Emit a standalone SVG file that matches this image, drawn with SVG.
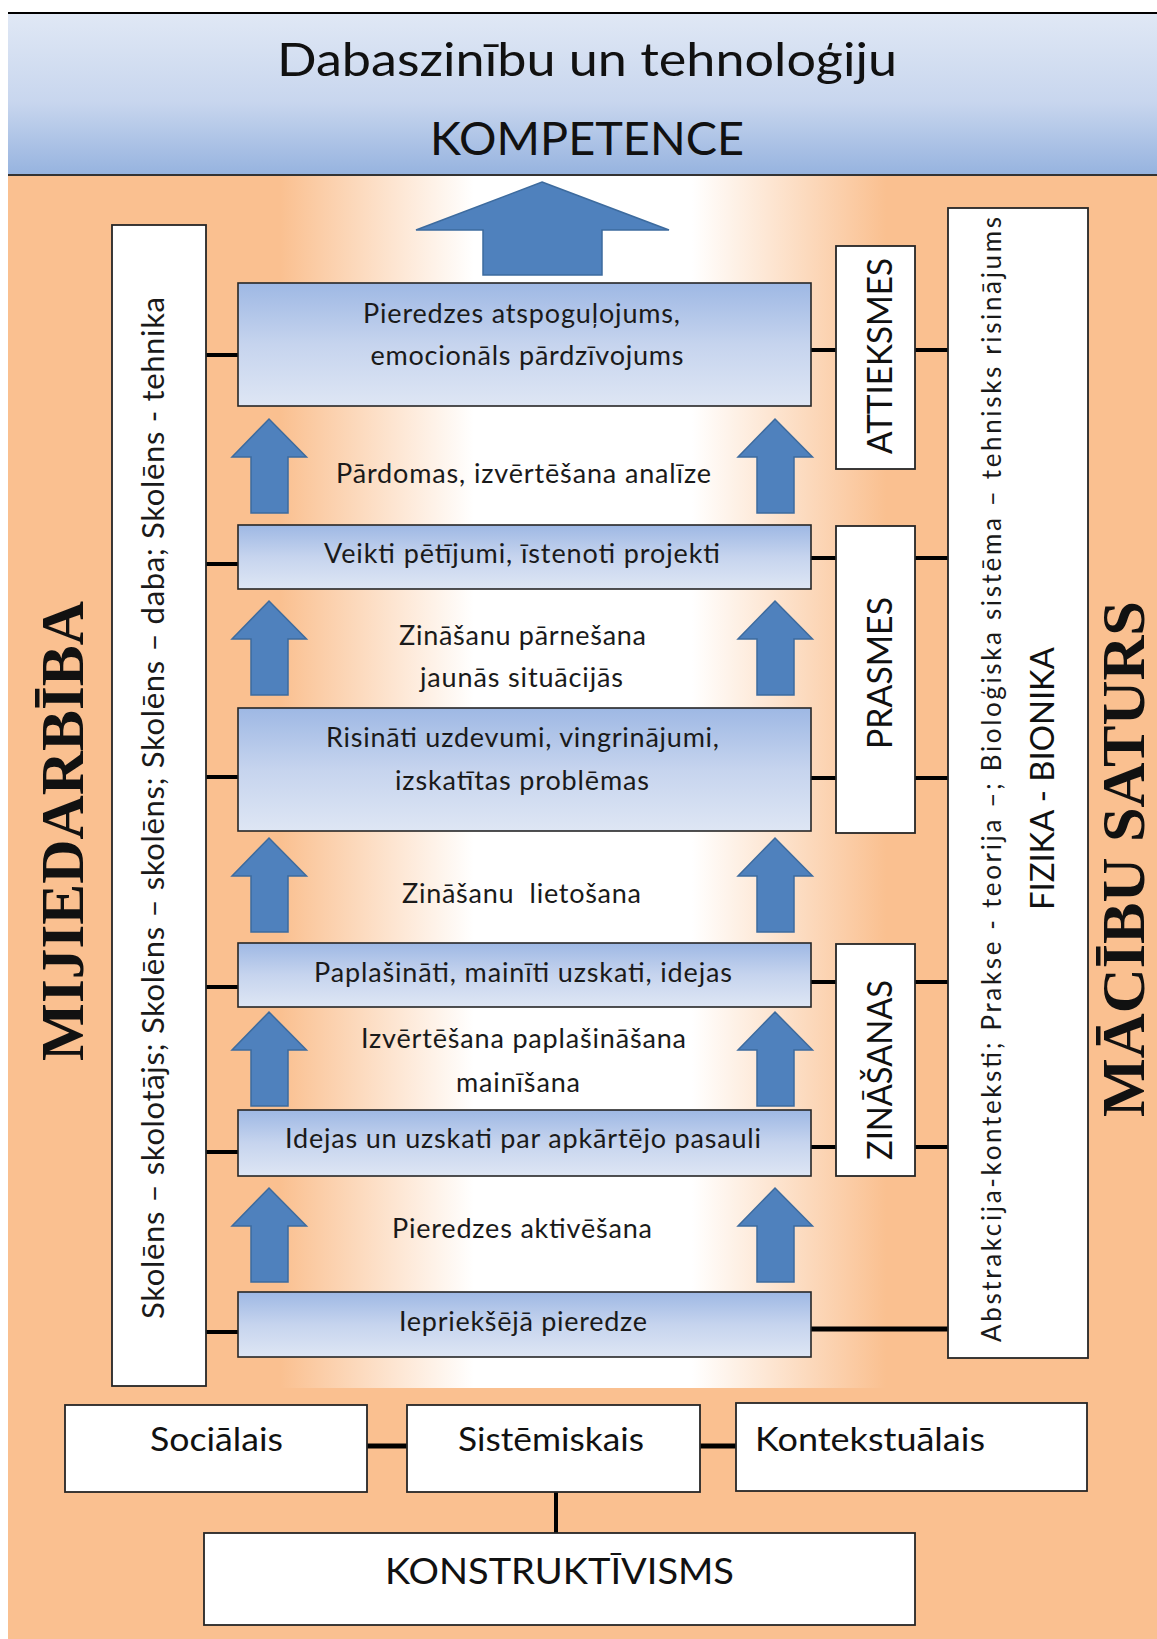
<svg xmlns="http://www.w3.org/2000/svg" width="1157" height="1639" viewBox="0 0 1157 1639">
<defs>
<linearGradient id="hdr" x1="0" y1="0" x2="0" y2="1">
<stop offset="0" stop-color="#E0E8F5"/>
<stop offset="0.55" stop-color="#C8D6EE"/>
<stop offset="1" stop-color="#96B3DF"/>
</linearGradient>
<linearGradient id="band" x1="0" y1="0" x2="1" y2="0">
<stop offset="0" stop-color="#FAC090"/>
<stop offset="0.32" stop-color="#FFFFFF"/>
<stop offset="0.68" stop-color="#FFFFFF"/>
<stop offset="1" stop-color="#FAC090"/>
</linearGradient>
<linearGradient id="boxg" x1="0" y1="0" x2="0" y2="1">
<stop offset="0" stop-color="#9EB8E4"/>
<stop offset="0.5" stop-color="#C6D4EE"/>
<stop offset="1" stop-color="#DEE6F4"/>
</linearGradient>
<polygon id="arr" points="0,0 37.5,38 19,38 19,94 -18,94 -18,38 -37,38"/>
</defs>
<style>
.bx{fill:url(#boxg);stroke:#262626;stroke-width:1.6}
.wb{fill:#FFFFFF;stroke:#262626;stroke-width:1.8}
.ar{fill:#4F81BD;stroke:#3D6B9E;stroke-width:1.5}
.t{font-family:Lato,"Liberation Sans",sans-serif;font-size:27px;fill:#1a1a1a;text-anchor:middle}
.tb{font-family:Lato,"Liberation Sans",sans-serif;font-size:33px;fill:#111}
.tc{font-family:Lato,"Liberation Sans",sans-serif;font-size:34px;fill:#111;text-anchor:middle}
.th{font-family:Lato,"Liberation Sans",sans-serif;font-size:47px;fill:#111;text-anchor:middle}
.ts{font-family:"Liberation Serif","Times New Roman",serif;font-size:61px;font-weight:bold;fill:#111;text-anchor:middle}
.cn line{stroke:#000;stroke-width:4}
</style>

<rect x="0" y="0" width="1157" height="1639" fill="#FFFFFF"/>
<rect x="8" y="175" width="1149" height="1464" fill="#FAC090"/>
<rect x="280" y="175" width="606" height="1213" fill="url(#band)"/>

<g id="header">
<rect x="8" y="13" width="1149" height="162" fill="url(#hdr)"/>
<line x1="8" y1="13" x2="1157" y2="13" stroke="#000" stroke-width="2"/>
<line x1="8" y1="175" x2="1157" y2="175" stroke="#333" stroke-width="2"/>
<text class="th" x="587" y="76" textLength="620" lengthAdjust="spacingAndGlyphs">Dabaszinību un tehnoloģiju</text>
<text class="th" x="587" y="155" textLength="314" lengthAdjust="spacingAndGlyphs">KOMPETENCE</text>
</g>

<g id="big-arrow">
<polygon class="ar" points="542,182 669,230 602,230 602,275 483,275 483,230 416,230"/>
</g>

<g id="connectors" class="cn">
<line x1="206" y1="355" x2="238" y2="355"/>
<line x1="206" y1="564" x2="238" y2="564"/>
<line x1="206" y1="777" x2="238" y2="777"/>
<line x1="206" y1="987" x2="238" y2="987"/>
<line x1="206" y1="1152" x2="238" y2="1152"/>
<line x1="206" y1="1332" x2="238" y2="1332"/>
<line x1="811" y1="350" x2="836" y2="350"/>
<line x1="915" y1="350" x2="948" y2="350"/>
<line x1="811" y1="558" x2="836" y2="558"/>
<line x1="915" y1="558" x2="948" y2="558"/>
<line x1="811" y1="778" x2="836" y2="778"/>
<line x1="915" y1="778" x2="948" y2="778"/>
<line x1="811" y1="982" x2="836" y2="982"/>
<line x1="915" y1="982" x2="948" y2="982"/>
<line x1="811" y1="1147" x2="836" y2="1147"/>
<line x1="915" y1="1147" x2="948" y2="1147"/>
<line x1="811" y1="1329" x2="948" y2="1329" style="stroke-width:5"/>
<line x1="367" y1="1446" x2="407" y2="1446" style="stroke-width:5"/>
<line x1="700" y1="1446" x2="736" y2="1446" style="stroke-width:5"/>
<line x1="556" y1="1492" x2="556" y2="1533"/>
</g>

<g id="arrows">
<use href="#arr" class="ar" x="269" y="419"/>
<use href="#arr" class="ar" x="775" y="419"/>
<use href="#arr" class="ar" x="269" y="601"/>
<use href="#arr" class="ar" x="775" y="601"/>
<use href="#arr" class="ar" x="269" y="838"/>
<use href="#arr" class="ar" x="775" y="838"/>
<use href="#arr" class="ar" x="269" y="1012"/>
<use href="#arr" class="ar" x="775" y="1012"/>
<use href="#arr" class="ar" x="269" y="1188"/>
<use href="#arr" class="ar" x="775" y="1188"/>
</g>

<g id="labels">
<text class="t" x="523.5" y="483" textLength="375" lengthAdjust="spacing">Pārdomas, izvērtēšana analīze</text>
<text class="t" x="522.5" y="645" textLength="247" lengthAdjust="spacing">Zināšanu pārnešana</text>
<text class="t" x="521.5" y="687" textLength="203" lengthAdjust="spacing">jaunās situācijās</text>
<text class="t" x="521.5" y="903" textLength="239" lengthAdjust="spacing" xml:space="preserve">Zināšanu  lietošana</text>
<text class="t" x="523.5" y="1048" textLength="325" lengthAdjust="spacing">Izvērtēšana paplašināšana</text>
<text class="t" x="518" y="1092" textLength="124" lengthAdjust="spacing">mainīšana</text>
<text class="t" x="522" y="1238" textLength="260" lengthAdjust="spacing">Pieredzes aktivēšana</text>
</g>

<g id="box1">
<rect class="bx" x="238" y="283" width="573" height="123"/>
<text class="t" x="521.5" y="323" textLength="317" lengthAdjust="spacing">Pieredzes atspoguļojums,</text>
<text class="t" x="527" y="365" textLength="313" lengthAdjust="spacing">emocionāls pārdzīvojums</text>
</g>
<g id="box2">
<rect class="bx" x="238" y="525" width="573" height="64"/>
<text class="t" x="522" y="563" textLength="396" lengthAdjust="spacing">Veikti pētījumi, īstenoti projekti</text>
</g>
<g id="box3">
<rect class="bx" x="238" y="708" width="573" height="123"/>
<text class="t" x="522.5" y="747" textLength="393" lengthAdjust="spacing">Risināti uzdevumi, vingrinājumi,</text>
<text class="t" x="522" y="790" textLength="254" lengthAdjust="spacing">izskatītas problēmas</text>
</g>
<g id="box4">
<rect class="bx" x="238" y="943" width="573" height="64"/>
<text class="t" x="523" y="982" textLength="418" lengthAdjust="spacing">Paplašināti, mainīti uzskati, idejas</text>
</g>
<g id="box5">
<rect class="bx" x="238" y="1110" width="573" height="66"/>
<text class="t" x="523" y="1148" textLength="476" lengthAdjust="spacing">Idejas un uzskati par apkārtējo pasauli</text>
</g>
<g id="box6">
<rect class="bx" x="238" y="1292" width="573" height="65"/>
<text class="t" x="523" y="1331" textLength="248" lengthAdjust="spacing">Iepriekšējā pieredze</text>
</g>

<g id="mijiedarbiba-title">
<text class="ts" transform="translate(83,831) rotate(-90)" textLength="460" lengthAdjust="spacingAndGlyphs">MIJIEDARBĪBA</text>
</g>
<g id="mijiedarbiba-box">
<rect class="wb" x="112" y="225" width="94" height="1161"/>
<text class="t" style="font-size:31px" transform="translate(164,808) rotate(-90)" textLength="1022" lengthAdjust="spacing">Skolēns – skolotājs; Skolēns – skolēns; Skolēns – daba; Skolēns - tehnika</text>
</g>

<g id="attieksmes">
<rect class="wb" x="836" y="246" width="79" height="223"/>
<text class="tc" transform="translate(892,356) rotate(-90)" textLength="196" lengthAdjust="spacingAndGlyphs">ATTIEKSMES</text>
</g>
<g id="prasmes">
<rect class="wb" x="836" y="526" width="79" height="307"/>
<text class="tc" transform="translate(892,673) rotate(-90)" textLength="152" lengthAdjust="spacingAndGlyphs">PRASMES</text>
</g>
<g id="zinasanas">
<rect class="wb" x="836" y="944" width="79" height="232"/>
<text class="tc" transform="translate(892,1070) rotate(-90)" textLength="180" lengthAdjust="spacingAndGlyphs">ZINĀŠANAS</text>
</g>

<g id="saturs-box">
<rect class="wb" x="948" y="208" width="140" height="1150"/>
<text class="t" style="font-size:26px" transform="translate(1001,779.5) rotate(-90)" textLength="1125" lengthAdjust="spacing">Abstrakcija-konteksti; Prakse - teorija –; Bioloģiska sistēma – tehnisks risinājums</text>
<text class="tc" style="font-size:33px" transform="translate(1054,778.5) rotate(-90)" textLength="263" lengthAdjust="spacingAndGlyphs">FIZIKA - BIONIKA</text>
</g>
<g id="macibu-saturs-title">
<text class="ts" transform="translate(1144,859) rotate(-90)" textLength="516" lengthAdjust="spacingAndGlyphs">MĀCĪBU SATURS</text>
</g>

<g id="socialais">
<rect class="wb" x="65" y="1405" width="302" height="87"/>
<text class="tb" x="216.5" y="1451" text-anchor="middle" textLength="133" lengthAdjust="spacingAndGlyphs">Sociālais</text>
</g>
<g id="sistemiskais">
<rect class="wb" x="407" y="1405" width="293" height="87"/>
<text class="tb" x="551" y="1451" text-anchor="middle" textLength="186" lengthAdjust="spacingAndGlyphs">Sistēmiskais</text>
</g>
<g id="kontekstualais">
<rect class="wb" x="736" y="1403" width="351" height="88"/>
<text class="tb" x="755" y="1451" textLength="230" lengthAdjust="spacingAndGlyphs">Kontekstuālais</text>
</g>
<g id="konstruktivisms">
<rect class="wb" x="204" y="1533" width="711" height="92"/>
<text class="tc" style="font-size:36px" x="559.5" y="1584" textLength="349" lengthAdjust="spacingAndGlyphs">KONSTRUKTĪVISMS</text>
</g>
</svg>
